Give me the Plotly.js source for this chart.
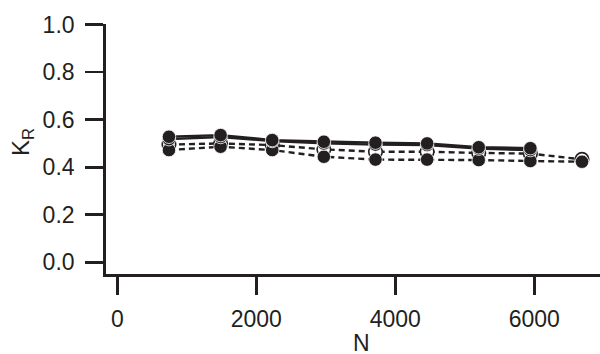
<!DOCTYPE html>
<html>
<head>
<meta charset="utf-8">
<script src="https://cdn.plot.ly/plotly-3.0.1.min.js"></script>
<style>html,body{margin:0;padding:0;background:#fff;}#chart{width:600px;height:354px;}</style>
</head>
<body>
<div id="chart"></div>
<script>
// Data
const N_values = [743, 1486, 2229, 2972, 3715, 4458, 5201, 5944, 6687];
const solidA = [0.528, 0.535, 0.514, 0.507, 0.503, 0.500, 0.484, 0.480];
const solidB = [0.518, 0.527, 0.510, 0.500, 0.495, 0.493, 0.478, 0.472];
const dashedOpen = [0.495, 0.500, 0.493, 0.475, 0.465, 0.465, 0.460, 0.457, 0.433];
const dashedFilled = [0.472, 0.486, 0.472, 0.444, 0.432, 0.432, 0.430, 0.426, 0.423];
const yTicks = [0, 0.2, 0.4, 0.6, 0.8, 1.0];
const yTickText = ['0.0', '0.2', '0.4', '0.6', '0.8', '1.0'];
const xTicks = [0, 2000, 4000, 6000];
const xTickText = ['0', '2000', '4000', '6000'];

const INK = '#231f20';
const FONT = 'Liberation Sans, Arial, Helvetica, sans-serif';

function trace(y, dash, open) {
  return {
    x: N_values.slice(0, y.length),
    y: y,
    type: 'scatter',
    mode: 'lines+markers',
    line: {color: INK, width: 2.4, dash: dash},
    marker: {
      size: 13.5,
      color: open ? '#ffffff' : INK,
      line: {color: open ? INK : '#ffffff', width: open ? 1.6 : 0.8}
    },
    showlegend: false,
    hoverinfo: 'skip'
  };
}

const data = [
  trace(dashedOpen, '6px,4px', true),
  trace(dashedFilled, '6px,4px', false),
  trace(solidB, 'solid', false),
  trace(solidA, 'solid', false)
];

const layout = {
  width: 600,
  height: 354,
  margin: {l: 106, r: 0, t: 24, b: 80, pad: 0},
  paper_bgcolor: '#ffffff',
  plot_bgcolor: '#ffffff',
  font: {family: FONT, color: INK, size: 23},
  xaxis: {
    range: [-163, 6946],
    tickmode: 'array',
    tickvals: xTicks,
    ticktext: xTickText,
    ticks: 'outside',
    ticklen: 18,
    tickwidth: 2.8,
    tickcolor: INK,
    showline: true,
    linecolor: INK,
    linewidth: 2.8,
    showgrid: false,
    zeroline: false,
    tickfont: {family: FONT, size: 23, color: INK},
    ticklabelstandoff: 5
  },
  yaxis: {
    range: [-0.049, 1.002],
    tickmode: 'array',
    tickvals: yTicks,
    ticktext: yTickText,
    ticks: 'outside',
    ticklen: 18,
    tickwidth: 2.8,
    tickcolor: INK,
    showline: true,
    linecolor: INK,
    linewidth: 2.8,
    showgrid: false,
    zeroline: false,
    tickfont: {family: FONT, size: 23, color: INK},
    ticklabelstandoff: 6
  },
  annotations: [
    {
      text: 'N',
      xref: 'paper', yref: 'paper',
      x: (361 - 106) / 494, y: -(343 - 274) / 250,
      xanchor: 'center', yanchor: 'middle',
      showarrow: false,
      font: {family: FONT, size: 23, color: INK}
    },
    {
      text: 'K<sub>R</sub>',
      xref: 'paper', yref: 'paper',
      x: -(106 - 22) / 494, y: (274 - 142) / 250,
      xanchor: 'center', yanchor: 'middle',
      textangle: -90,
      showarrow: false,
      font: {family: FONT, size: 24, color: INK}
    }
  ]
};

Plotly.newPlot('chart', data, layout, {displayModeBar: false, staticPlot: true});
</script>
</body>
</html>
